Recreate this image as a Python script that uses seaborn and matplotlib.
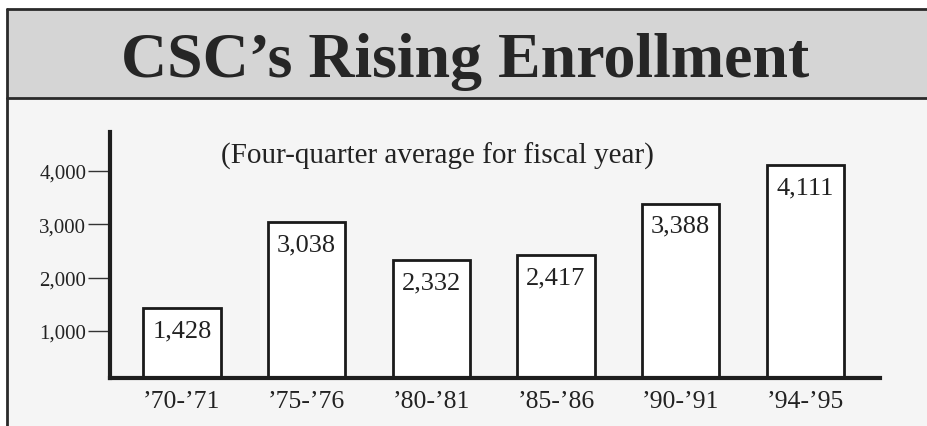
import matplotlib
matplotlib.use("Agg")
import matplotlib.pyplot as plt
import seaborn as sns
import pandas as pd
from matplotlib.patches import Rectangle
from matplotlib.lines import Line2D

# ---- data ----
categories = ["\u201970-\u201971", "\u201975-\u201976", "\u201980-\u201981",
              "\u201985-\u201986", "\u201990-\u201991", "\u201994-\u201995"]
enrollment = [1428, 3038, 2332, 2417, 3388, 4111]
bar_labels = ["1,428", "3,038", "2,332", "2,417", "3,388", "4,111"]
y_ticks = [1000, 2000, 3000, 4000]
y_tick_labels = ["1,000", "2,000", "3,000", "4,000"]
title = "CSC\u2019s Rising Enrollment"
subtitle = "(Four-quarter average for fiscal year)"

sns.set_theme(style="white")
plt.rcParams["font.family"] = ["Liberation Serif", "DejaVu Serif"]

W, H = 927, 427
fig = plt.figure(figsize=(W / 100, H / 100), dpi=100)
fig.patch.set_facecolor("white")

def fx(px):
    return px / W

def fy(py):
    return 1 - py / H

# panel background
fig.patches.append(Rectangle((fx(7), 0), 1 - fx(7), fy(99), transform=fig.transFigure,
                             facecolor="#f5f5f5", edgecolor="none", zorder=-2))
# title band
fig.patches.append(Rectangle((fx(7), fy(99)), 1 - fx(7), fy(10) - fy(99),
                             transform=fig.transFigure, facecolor="#d5d5d5",
                             edgecolor="none", zorder=-2))
# border lines
for xs, ys in [((fx(7), 1), (fy(10), fy(10))),
               ((fx(7), 1), (fy(99), fy(99))),
               ((fx(7), fx(7)), (fy(10), 0))]:
    fig.lines.append(Line2D(xs, ys, transform=fig.transFigure, color="#2a2a2a", lw=2, zorder=-1))

fig.text(fx(465), fy(77), title, ha="center", va="baseline", fontsize=46,
         fontweight="bold", color="#262626")

ax = fig.add_axes([fx(110), fy(379), fx(880) - fx(110), fy(133) - fy(379)])
ax.set_zorder(2)
ax.set_facecolor("none")

df = pd.DataFrame({"period": categories, "enrollment": enrollment})
sns.barplot(data=df, x="period", y="enrollment", color="white", edgecolor="#1a1a1a",
            linewidth=2, width=0.62, saturation=1, ax=ax, zorder=2)
for p in ax.patches:
    p.set_facecolor("white")

ax.set_xlim(-0.577, 5.6)
ax.set_ylim(118, 4731)
ax.set_xlabel("")
ax.set_ylabel("")

for s in ["top", "right"]:
    ax.spines[s].set_visible(False)
for s in ["left", "bottom"]:
    ax.spines[s].set_visible(True)
    ax.spines[s].set_linewidth(3)
    ax.spines[s].set_color("#1e1e1e")

ax.set_yticks(y_ticks)
ax.set_yticklabels(y_tick_labels, fontsize=15, color="#222222")
ax.tick_params(axis="y", which="major", left=True, length=16, width=1, color="#333333",
               pad=1, direction="out")
ax.tick_params(axis="x", which="major", bottom=False, length=0, pad=9)
for lbl in ax.get_xticklabels():
    lbl.set_fontsize(18.5)
    lbl.set_color("#222222")

for i, (v, lab) in enumerate(zip(enrollment, bar_labels)):
    ax.annotate(lab, xy=(i, v), xytext=(0, -8), textcoords="offset points",
                ha="center", va="top", fontsize=19, color="#222222", zorder=3)

fig.text(fx(437), fy(156), subtitle, ha="center", va="center", fontsize=21, color="#222222")

fig.savefig("out.png", dpi=100)
